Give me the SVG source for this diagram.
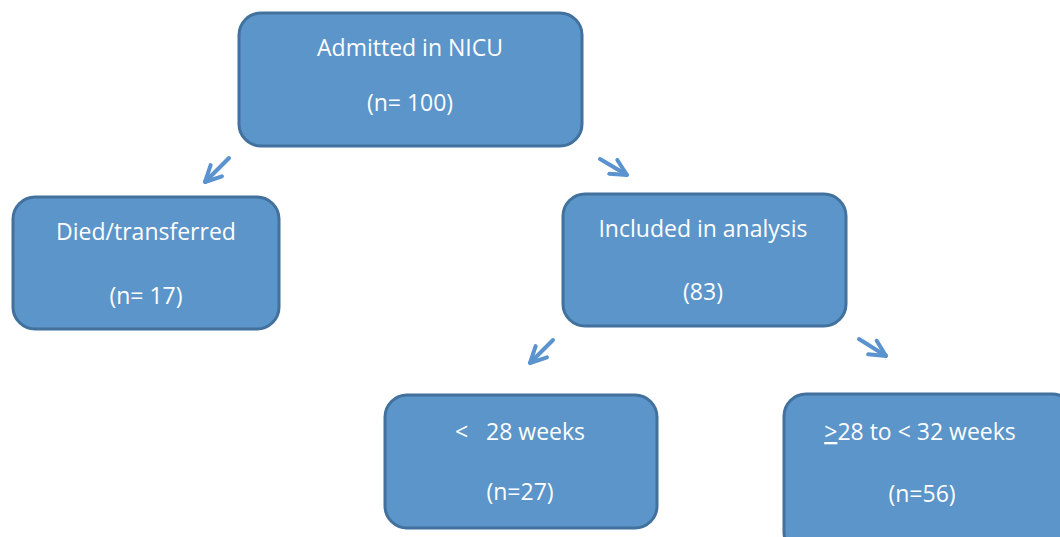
<svg xmlns="http://www.w3.org/2000/svg" width="1060" height="537" viewBox="0 0 1060 537">
<style>
.box{fill:#5b95c9;stroke:#41719c;stroke-width:3}
.t{font-family:"Open Sans","Liberation Sans",sans-serif;font-size:23px;fill:#ffffff;text-anchor:middle}
.c{fill:none;stroke:#5a93cd;stroke-width:4;stroke-linecap:round;stroke-linejoin:round}
</style>
<defs>
<marker id="ah" viewBox="0 0 10 10" refX="9" refY="5" markerWidth="5" markerHeight="5" orient="auto" markerUnits="strokeWidth">
<path d="M1,1 L9,5 L1,9" fill="none" stroke="#5a93cd" stroke-width="2" stroke-linecap="round" stroke-linejoin="round"/>
</marker>
</defs>
<rect width="1060" height="537" fill="#ffffff"/>
<g id="connectors">
<line class="c" x1="229" y1="158" x2="205" y2="182" marker-end="url(#ah)"/>
<line class="c" x1="600" y1="159" x2="627" y2="175" marker-end="url(#ah)"/>
<line class="c" x1="553" y1="340" x2="530" y2="363" marker-end="url(#ah)"/>
<line class="c" x1="859" y1="339" x2="886" y2="356" marker-end="url(#ah)"/>
</g>
<g id="n-admitted">
<rect class="box" x="239" y="13" width="343" height="133" rx="22"/>
<text class="t" x="410" y="56">Admitted in NICU</text>
<text class="t" x="410" y="111">(n= 100)</text>
</g>
<g id="n-died">
<rect class="box" x="13" y="197" width="266" height="132" rx="22"/>
<text class="t" x="146" y="240">Died/transferred</text>
<text class="t" x="146" y="304">(n= 17)</text>
</g>
<g id="n-included">
<rect class="box" x="563" y="194" width="283" height="132" rx="22"/>
<text class="t" x="703" y="237">Included in analysis</text>
<text class="t" x="703" y="300">(83)</text>
</g>
<g id="n-lt28">
<rect class="box" x="385" y="395" width="272" height="133" rx="22"/>
<text class="t" x="520" y="440" xml:space="preserve">&lt;   28 weeks</text>
<text class="t" x="520" y="500">(n=27)</text>
</g>
<g id="n-28to32">
<rect class="box" x="784" y="394" width="290" height="160" rx="22"/>
<text class="t" x="920" y="440"><tspan text-decoration="underline">&gt;</tspan>28 to &lt; 32 weeks</text>
<text class="t" x="922" y="502">(n=56)</text>
</g>
</svg>
